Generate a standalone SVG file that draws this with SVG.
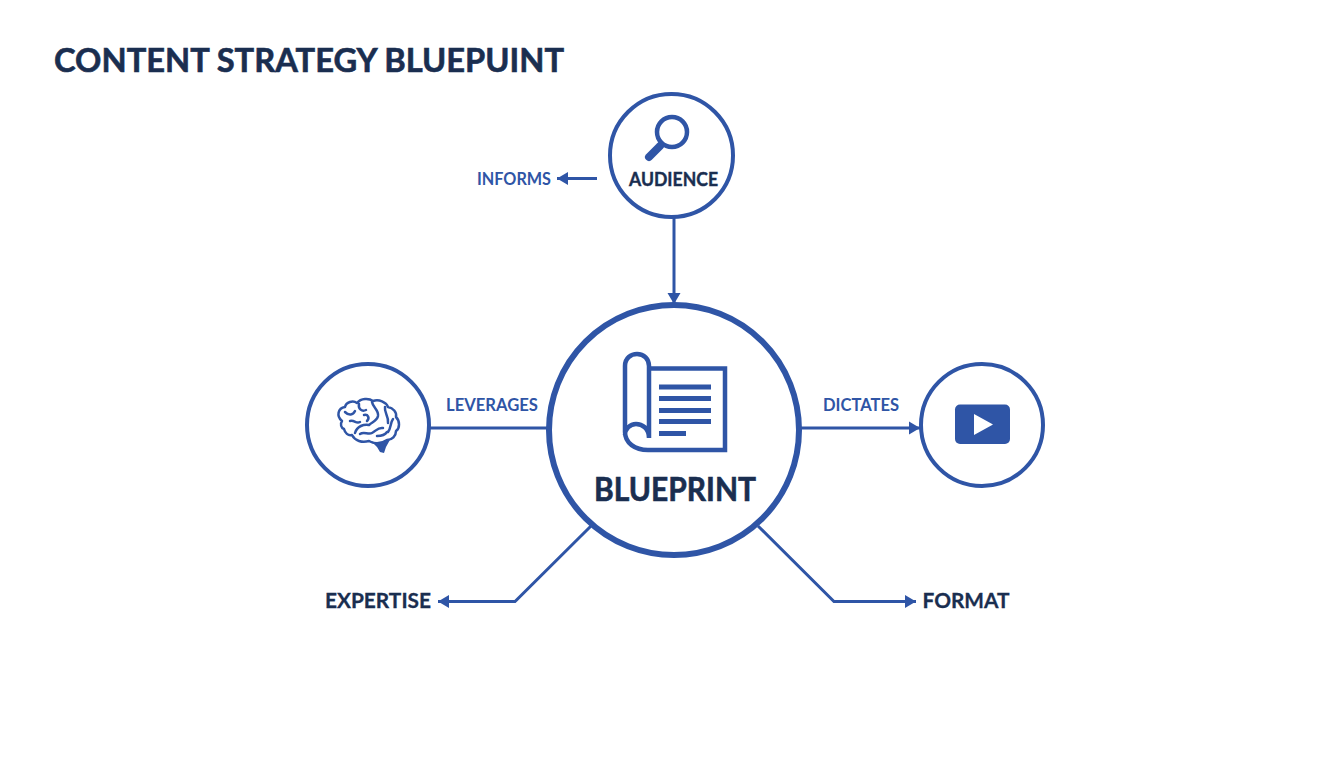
<svg xmlns="http://www.w3.org/2000/svg" width="1344" height="768" viewBox="0 0 1344 768">
<defs>
<marker id="ah" markerUnits="userSpaceOnUse" markerWidth="13" markerHeight="14" refX="11" refY="7" orient="auto"><path d="M0 0.500L11 7L0 13.500Z" fill="#2f55a6"/></marker>
</defs>
<style>
.ln{fill:none;stroke:#2f55a6;stroke-width:3}
.ring{fill:#fff;stroke:#2f55a6;stroke-width:4}
.ic{fill:none;stroke:#2f55a6;stroke-width:4.500}
.thin{fill:none;stroke:#2f55a6;stroke-width:2.500;stroke-linecap:round;stroke-linejoin:round}
.f{fill:#2f55a6}
text{font-family:"Lato","Open Sans","Liberation Sans",sans-serif;font-weight:700;text-anchor:middle}
.d{fill:#1a2e50}
.b{fill:#2f55a6}
</style>
<rect width="1344" height="768" fill="#fff"/>
<text class="d" x="309" y="72" font-size="33" textLength="510" lengthAdjust="spacingAndGlyphs" stroke="#1a2e50" stroke-width="0.6">CONTENT STRATEGY BLUEPUINT</text>
<g id="connectors">
<path class="ln" d="M674 218V304" marker-end="url(#ah)"/>
<path class="ln" d="M597 178.500H557" marker-end="url(#ah)"/>
<path class="ln" d="M430 428H549"/>
<path class="ln" d="M801 428H920" marker-end="url(#ah)"/>
<path class="ln" d="M591 526L515 601.500H438" marker-end="url(#ah)"/>
<path class="ln" d="M758 526L834 601.500H916" marker-end="url(#ah)"/>
</g>
<g id="audience">
<circle class="ring" cx="671.500" cy="155.500" r="61.500"/>
<circle class="ic" cx="672" cy="132" r="15"/>
<path d="M660 146L649 157" stroke="#2f55a6" stroke-width="8" stroke-linecap="round" fill="none"/>
<text class="d" x="673.500" y="185.500" font-size="19" textLength="89" lengthAdjust="spacingAndGlyphs" stroke="#1a2e50" stroke-width="0.4">AUDIENCE</text>
</g>
<g id="blueprint">
<circle cx="674" cy="430" r="125" fill="#fff" stroke="#2f55a6" stroke-width="6"/>
<path class="ic" d="M649 368.500H725V450H648C635 450 625 443 625 432V366C625 358 631 354 637 354C644 354 649 359 649 366V438M649 438C649 428 642 424 636 424C630 424 625 429 625 435"/>
<g class="f"><rect x="659" y="384.500" width="52" height="5"/><rect x="659" y="396" width="52" height="5"/><rect x="659" y="408" width="52" height="5"/><rect x="659" y="419" width="52" height="5"/><rect x="659" y="431" width="27" height="5"/></g>
<text class="d" x="675" y="500.500" font-size="32" textLength="162" lengthAdjust="spacingAndGlyphs" stroke="#1a2e50" stroke-width="0.6">BLUEPRINT</text>
</g>
<g id="expertise-icon">
<circle class="ring" cx="368" cy="425" r="61"/>
<path class="thin" d="M342 421C336 416 338 408 345 407C346 402 353 400 357 403C361 398 369 398 373 401C379 399 386 402 388 407C393 408 397 412 396 417C400 421 400 428 396 431C396 436 392 440 387 440C381 444 374 444 369 441C362 443 355 441 352 435C348 436 345 433 344 429C341 428 340 424 342 421Z"/>
<path class="thin" d="M345 412C349 416 353 415 355 411M350 421C355 420 356 424 360 422M359 404C358 409 362 412 366 410M364 415C368 414 370 418 367 421M372 402C373 408 379 410 378 416C377 421 372 422 369 425C364 424 357 426 355 433M385 407C384 413 389 416 388 423M360 434C364 431 368 435 372 433C376 431 378 427 383 428M393 419C390 423 391 429 388 432M377 436C381 436 385 435 387 432"/>
<path class="f" d="M371 441C377 443 384 443 391 438L386 447L384 453L380 452L377 447Z"/>
</g>
<g id="format-icon">
<circle class="ring" cx="982" cy="425" r="61"/>
<rect x="955" y="404.500" width="55" height="39.500" rx="5" class="f"/>
<path d="M974 414L993 424.500L974 435Z" fill="#fff"/>
</g>
<g id="labels">
<text class="b" x="514" y="185" font-size="16.500" textLength="74" lengthAdjust="spacingAndGlyphs">INFORMS</text>
<text class="b" x="492" y="411" font-size="16.500" textLength="92" lengthAdjust="spacingAndGlyphs">LEVERAGES</text>
<text class="b" x="861" y="411" font-size="16.500" textLength="76" lengthAdjust="spacingAndGlyphs">DICTATES</text>
<text class="d" x="378" y="608" font-size="21" textLength="106" lengthAdjust="spacingAndGlyphs" stroke="#1a2e50" stroke-width="0.3">EXPERTISE</text>
<text class="d" x="966" y="608" font-size="21" textLength="87" lengthAdjust="spacingAndGlyphs" stroke="#1a2e50" stroke-width="0.3">FORMAT</text>
</g>
</svg>
